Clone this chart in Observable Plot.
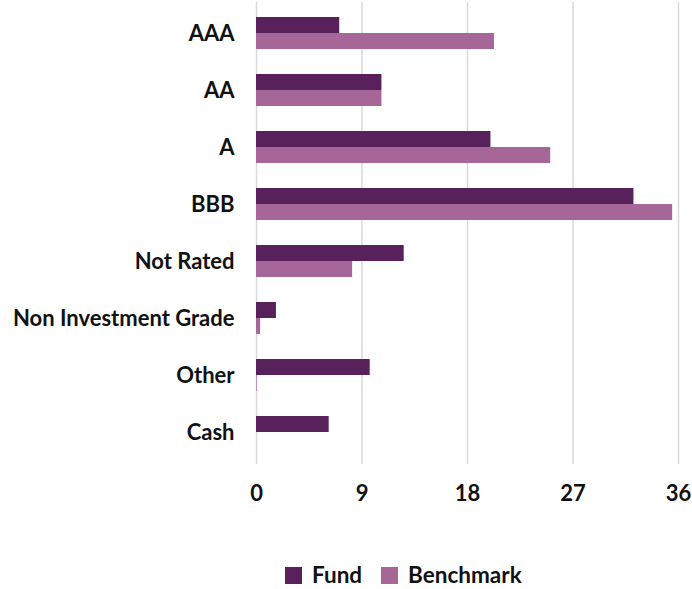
<!DOCTYPE html>
<html>
<head>
<meta charset="utf-8">
<script src="https://cdn.jsdelivr.net/npm/d3@7"></script>
<script src="https://cdn.jsdelivr.net/npm/@observablehq/plot@0.6"></script>
<style>
  body { margin: 0; background: #fff; font-family: Lato, "Open Sans", sans-serif; }
  #chart svg { display: block; }
  .legend { display: flex; align-items: center; margin-left: 285px; margin-top: 33px; font-weight: 700; font-size: 22.5px; color: #111; line-height: 24px; }
  .legend .item { display: flex; align-items: center; margin-right: 19px; }
  .legend .sw { width: 17px; height: 17px; margin-right: 10px; }
</style>
</head>
<body>
<div id="chart"></div>
<script>
const categories = ["AAA", "AA", "A", "BBB", "Not Rated", "Non Investment Grade", "Other", "Cash"];
const fund = [7.1, 10.7, 20.0, 32.2, 12.6, 1.7, 9.7, 6.2];
const benchmark = [20.3, 10.7, 25.1, 35.5, 8.2, 0.35, 0.05, 0];
const xTicks = [0, 9, 18, 27, 36];
const seriesNames = ["Fund", "Benchmark"];
const seriesColors = ["#58215b", "#a66698"];

const fundData = categories.map((c, i) => ({category: c, value: fund[i], series: seriesNames[0]}));
const benchData = categories.map((c, i) => ({category: c, value: benchmark[i], series: seriesNames[1]}));

const W = 692, H = 530;
function build(half) {
  return Plot.plot({
    width: W,
    height: H,
    marginLeft: 256,
    marginRight: 14,
    marginTop: 2,
    marginBottom: 66,
    style: {fontFamily: "Lato, 'Open Sans', sans-serif", fontWeight: 700, fontSize: "22px", color: "#111"},
    x: {domain: [0, 36], ticks: xTicks, tickSize: 0, tickPadding: 21, label: null},
    y: {domain: categories, paddingInner: 0.43, paddingOuter: 0.215, tickSize: 0, tickPadding: 22, label: null},
    color: {domain: seriesNames, range: seriesColors},
    marks: [
      Plot.ruleX(xTicks, {stroke: "#d9d9d9", strokeWidth: 1.5}),
      Plot.barX(fundData, {y: "category", x: "value", fill: "series", insetBottom: half}),
      Plot.barX(benchData, {y: "category", x: "value", fill: "series", insetTop: half})
    ]
  });
}
let p = build(0);
const bw = p.scale("y").bandwidth;
p = build(bw / 2);
document.getElementById("chart").appendChild(p);

const legend = document.createElement("div");
legend.className = "legend";
seriesNames.forEach((s, i) => {
  const item = document.createElement("div");
  item.className = "item";
  const sw = document.createElement("div");
  sw.className = "sw";
  sw.style.background = seriesColors[i];
  const t = document.createElement("span");
  t.textContent = s;
  item.appendChild(sw); item.appendChild(t);
  legend.appendChild(item);
});
document.body.appendChild(legend);
</script>
</body>
</html>
